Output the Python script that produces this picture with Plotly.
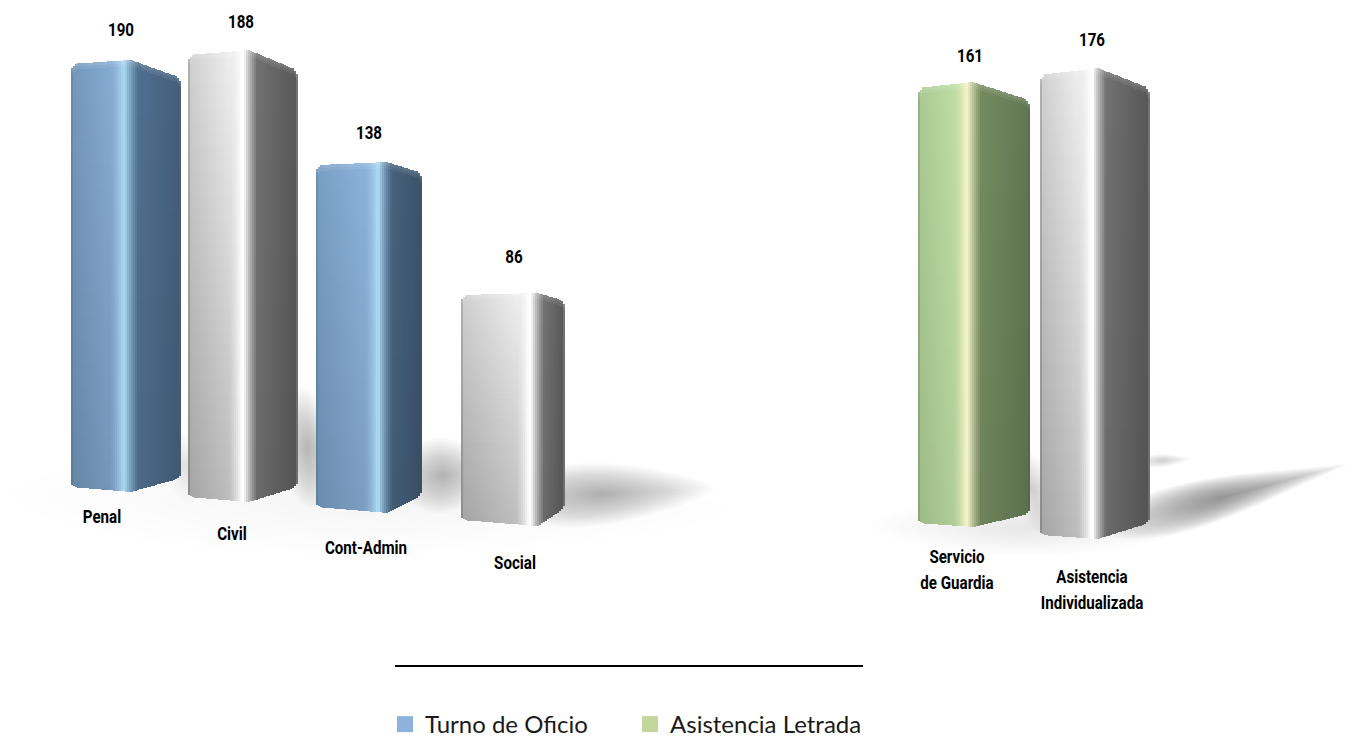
import numpy as np
import plotly.graph_objects as go

# ---------- data ----------
categories = ["Penal", "Civil", "Cont-Admin", "Social", "Servicio<br>de Guardia", "Asistencia<br>Individualizada"]
values = [190, 188, 138, 86, 161, 176]
families = ["blue", "gray", "blue", "gray", "green", "gray"]
legend_labels = ["Turno de Oficio", "Asistencia Letrada"]
legend_colors = ["#8db3dc", "#c3d69b"]

# ---------- perspective layout of the picture (page pixels, y measured from the top) ----------
W, H = 1359, 738
depth_scale = [2.274, 2.404, 2.543, 2.709, 2.764, 2.676]   # px per unit, differs with depth
floor_y = [492, 502, 513, 526, 527, 539]                   # ridge foot
ridge_x = [131, 249, 387, 538, 973, 1098]
high_x = [124, 243, 378, 530, 967, 1092]
left_x = [71, 188, 316, 461, 918, 1040]
right_x = [181, 297, 422, 565, 1029, 1149]
top_drop = [(4, 18), (5, 20), (3, 11), (2, 8), (6, 18), (7, 20)]      # left, right
bot_rise = [(5, 14), (5, 15), (6, 18), (6, 18), (4, 13), (4, 16)]     # left, right
left_gain = [0.95, 1.0, 0.99, 1.0, 1.0, 1.0]
right_gain = [0.98, 1.0, 0.86, 1.0, 1.0, 1.0]
value_xy = [(121, 31), (241, 23), (369, 134), (514, 258), (970, 57), (1092, 41)]
label_xy = [(102, 518), (232, 535), (366, 549), (515, 564), (957, 558), (1092, 578)]
line_gap = 26

PAL = {
    "blue": dict(e0="#5d7d9d", l0="#7397bb", l1="#86abd2", hi="#a8d5f0", r0="#4f6f8e", r1="#435c78", e1="#4a5f73", fade=(1.05, 0.10)),
    "gray": dict(e0="#8a8a8a", l0="#c2c2c2", l1="#e0e0e0", hi="#ffffff", r0="#6e6e6e", r1="#555555", e1="#707070", fade=(1.06, 0.18)),
    "green": dict(e0="#7f9a70", l0="#a5c48f", l1="#b9d8a0", hi="#f3f3c8", r0="#71875c", r1="#5d734f", e1="#5a6b4c", fade=(1.02, 0.06)),
}


def rgb(h):
    return np.array([int(h[i:i + 2], 16) for i in (1, 3, 5)], float)


def mix(a, b, t):
    return a + (b - a) * t


def strip_color(p, x, xl, hx, xr):
    """Horizontal shading: returns colour, weight of left-face fade, weight of right-face fade."""
    if x < xl + 2:
        return mix(rgb(p["e0"]), rgb(p["l0"]), (x - xl) / 2), 1.0, 0.0
    if x < hx - 14:
        return mix(rgb(p["l0"]), rgb(p["l1"]), (x - xl) / max(hx - 14 - xl, 1)), 1.0, 0.0
    if x < hx - 1:
        w = (x - hx + 14) / 13
        return mix(rgb(p["l1"]), rgb(p["hi"]), w ** 1.6), 1 - w, 0.0
    if x < hx + 1:
        return rgb(p["hi"]), 0.0, 0.0
    if x < hx + 14:
        w = (x - hx - 1) / 13
        return mix(rgb(p["hi"]), rgb(p["r0"]), w ** 0.8), 0.0, w
    if x > xr - 2:
        return rgb(p["e1"]), 0.0, 1.0
    return mix(rgb(p["r0"]), rgb(p["r1"]), (x - hx - 14) / max(xr - hx - 14, 1)), 0.0, 1.0


fig = go.Figure()


# ---------- soft floor shadows ----------
def blob(ax, ay, bx, by, w0, w1, color, op, layers=24):
    shapes = []
    for k in np.linspace(1, 0.06, layers):
        s = np.linspace(0, 1, 28)
        dx, dy = bx - ax, by - ay
        L = np.hypot(dx, dy) or 1
        nx, ny = -dy / L, dx / L
        mx, my = (ax + bx) / 2, (ay + by) / 2
        cx = mx + (s - 0.5) * dx * k
        cy = my + (s - 0.5) * dy * k
        prof = np.sin(np.pi * s) ** 0.6 * (w0 + (w1 - w0) * s) * k
        up = list(zip(cx + nx * prof, cy + ny * prof))
        dn = list(zip(cx - nx * prof, cy - ny * prof))[::-1]
        pts = up + dn
        d = "M" + " L".join(f"{px:.1f},{H - py:.1f}" for px, py in pts) + " Z"
        shapes.append(dict(type="path", path=d, fillcolor=color, opacity=op, line_width=0,
                           layer="below", xref="x", yref="y"))
    return shapes


sh = "#666462"
faint = "#8a8a8a"
shapes = []
# wide faint pools on the floor
shapes += blob(5, 495, 730, 510, 62, 44, faint, 0.012, 10)
shapes += blob(870, 525, 1180, 530, 30, 26, faint, 0.016, 12)
# dark pockets between the columns
shapes += blob(165, 470, 205, 462, 40, 34, sh, 0.016, 14)
shapes += blob(280, 450, 335, 445, 66, 56, sh, 0.024, 20)
shapes += blob(395, 480, 490, 470, 42, 34, sh, 0.022, 20)
shapes += blob(490, 500, 715, 488, 40, 22, sh, 0.028, 22)
shapes += blob(1010, 500, 1055, 480, 50, 46, sh, 0.020, 16)
# long raking shadow of the right-hand group
shapes += blob(1100, 530, 1348, 464, 36, 6, sh, 0.040, 24)
shapes += blob(1135, 462, 1190, 459, 8, 5, sh, 0.030, 10)

# ---------- columns, drawn as shaded bar strips on the value scale ----------
STRIP = 2
for i, v in enumerate(values):
    p = PAL[families[i]]
    xl, xr, rx, hx = left_x[i], right_x[i], ridge_x[i], high_x[i]
    foot = H - floor_y[i]
    head = foot + v * depth_scale[i]
    xs, bases, hs, cols = [], [], [], []
    for x in np.arange(xl, xr, STRIP):
        xc = x + STRIP / 2
        if xc < rx:
            f = (rx - xc) / (rx - xl)
            top = head - top_drop[i][0] * f
            bot = foot + bot_rise[i][0] * f
            top -= max(0, 5 - (xc - xl)) * 1.0
            bot += max(0, 4 - (xc - xl)) * 0.8
        else:
            f = (xc - rx) / (xr - rx)
            top = head - top_drop[i][1] * f
            bot = foot + bot_rise[i][1] * f
            top -= max(0, 4 - (xr - xc)) * 1.0
            bot += max(0, 4 - (xr - xc)) * 0.8
        base_col, wl, wr = strip_color(p, xc, xl, hx, xr)
        total = top - bot
        rows = 36 if wl > 0 else 10
        edges = [0, 3, 6] + list(np.linspace(6, total - 6, rows)[1:]) + [total]
        for a, b in zip(edges[:-1], edges[1:]):
            t = (a + b) / 2 / total
            left_f = left_gain[i] * (p["fade"][0] - p["fade"][1] * t * 1.2)
            right_f = right_gain[i] * (1.03 - 0.06 * t)
            c = base_col * mix(1.0, left_f, wl) * mix(1.0, right_f, wr)
            if a < 6:  # soft lit rim along the top edge
                c = mix(c, np.array([255, 255, 255.]), 0.14 * (1 - a / 6))
            c = np.clip(c, 0, 255)
            xs.append(float(xc))
            bases.append(float(top - b))
            hs.append(float(b - a))
            cols.append(f"rgb({c[0]:.0f},{c[1]:.0f},{c[2]:.0f})")
    fig.add_trace(go.Bar(x=xs, y=hs, base=bases, width=STRIP, name=categories[i].replace("<br>", " "),
                         marker=dict(color=cols, line_width=0), showlegend=False, hoverinfo="skip"))

# ---------- value labels ----------
lab_font = dict(family="Roboto, sans-serif", size=18, color="#000000", weight=700)
fig.add_trace(go.Scatter(x=[q[0] for q in value_xy], y=[H - q[1] for q in value_xy], mode="text",
                         text=[str(v) for v in values], textfont=lab_font, showlegend=False, hoverinfo="skip"))

# ---------- category labels (line by line, the picture uses wide leading) ----------
cx, cy, ct = [], [], []
for (px, py), c in zip(label_xy, categories):
    for j, part in enumerate(c.split("<br>")):
        cx.append(px)
        cy.append(H - py - j * line_gap)
        ct.append(part)
fig.add_trace(go.Scatter(x=cx, y=cy, mode="text", text=ct, textfont=lab_font, showlegend=False, hoverinfo="skip"))

# ---------- legend ----------
for name, col in zip(legend_labels, legend_colors):
    fig.add_trace(go.Scatter(x=[None], y=[None], mode="markers", name=name,
                             marker=dict(symbol="square", size=16, color=col, line_width=0)))

shapes.append(dict(type="line", x0=395, x1=863, y0=H - 666, y1=H - 666, line=dict(color="#000000", width=2),
                   xref="x", yref="y"))

fig.update_layout(
    width=W, height=H, margin=dict(l=0, r=0, t=0, b=0, autoexpand=False), barmode="overlay", bargap=0,
    paper_bgcolor="#ffffff", plot_bgcolor="rgba(0,0,0,0)", shapes=shapes,
    xaxis=dict(range=[0, W], visible=False, fixedrange=True),
    yaxis=dict(range=[0, H], visible=False, fixedrange=True),
    legend=dict(orientation="h", x=385 / W, xanchor="left", y=1 - 702 / H, yanchor="top",
                font=dict(family="Lato, Carlito, sans-serif", size=24, color="#1a1a1a"),
                bgcolor="rgba(0,0,0,0)", borderwidth=0, entrywidth=200, entrywidthmode="pixels",
                itemclick=False, itemdoubleclick=False),
    showlegend=True,
)

condense = """
document.body.style.margin='0';document.body.style.overflow='hidden';
document.querySelectorAll('.textpoint text').forEach(function(t){
  var n=t.getComputedTextLength();
  t.setAttribute('lengthAdjust','spacingAndGlyphs');
  t.setAttribute('textLength',(n*0.84).toFixed(1));
});
"""
fig.write_html("out.html", config={"displayModeBar": False}, post_script=condense)
